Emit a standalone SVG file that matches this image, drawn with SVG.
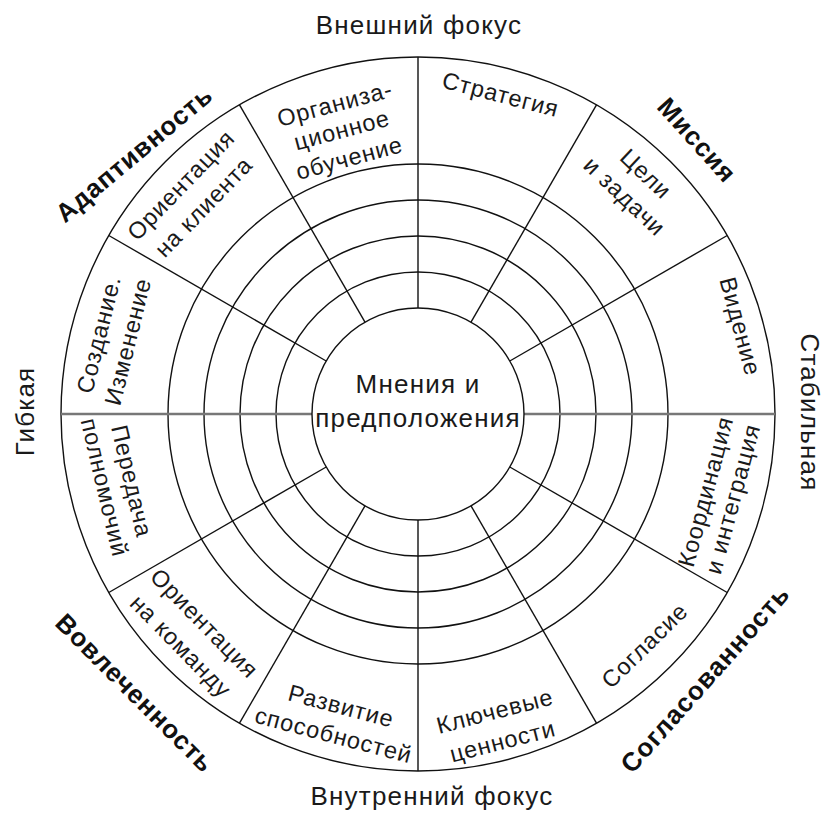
<svg xmlns="http://www.w3.org/2000/svg" width="824" height="814" viewBox="0 0 824 814">
<style>
text{font-family:"Liberation Sans",Arial,sans-serif;fill:#1a1a1a;text-anchor:middle}
.ring{fill:none;stroke:#111;stroke-width:1.4}
.rad{stroke:#111;stroke-width:1.4}
.axis{stroke:#777;stroke-width:2.4}
.lbl{font-size:23.5px;letter-spacing:0.9px}
.ax{font-size:26px;letter-spacing:1.2px}
.ctr{font-size:26px;letter-spacing:1.2px}
.bold{font-size:26px;font-weight:bold;fill:#111;letter-spacing:0.9px}
</style>
<rect width="824" height="814" fill="#fff"/>
<g id="rings">
<circle class="ring" cx="418" cy="414" r="357"/>
<circle class="ring" cx="418" cy="414" r="250"/>
<circle class="ring" cx="418" cy="414" r="214"/>
<circle class="ring" cx="418" cy="414" r="178"/>
<circle class="ring" cx="418" cy="414" r="142"/>
</g>
<g id="connectors">
<line class="axis" x1="524" y1="414" x2="775" y2="414"/>
<line class="axis" x1="312" y1="414" x2="61" y2="414"/>
<line class="rad" x1="418" y1="308" x2="418" y2="57"/>
<line class="rad" x1="418" y1="520" x2="418" y2="771"/>
<line class="rad" x1="509.8" y1="361" x2="727.2" y2="235.5"/>
<line class="rad" x1="471" y1="322.2" x2="596.5" y2="104.8"/>
<line class="rad" x1="365" y1="322.2" x2="239.5" y2="104.8"/>
<line class="rad" x1="326.2" y1="361" x2="108.8" y2="235.5"/>
<line class="rad" x1="326.2" y1="467" x2="108.8" y2="592.5"/>
<line class="rad" x1="365" y1="505.8" x2="239.5" y2="723.2"/>
<line class="rad" x1="471" y1="505.8" x2="596.5" y2="723.2"/>
<line class="rad" x1="509.8" y1="467" x2="727.2" y2="592.5"/>
</g>
<g id="center">
<circle class="ring" cx="418" cy="414" r="106"/>
<text class="ctr" x="418" y="393">Мнения и</text>
<text class="ctr" x="418" y="427">предположения</text>
</g>
<g id="axes-labels">
<text class="ax" x="419" y="34">Внешний фокус</text>
<text class="ax" x="432" y="805">Внутренний фокус</text>
<text class="ax" transform="translate(34 411.5) rotate(-90)">Гибкая</text>
<text class="ax" transform="translate(801 412.5) rotate(90)">Стабильная</text>
</g>
<g id="quadrants">
<text class="bold" transform="translate(134 154) rotate(-40)" y="9">Адаптивность</text>
<text class="bold" transform="translate(697 140) rotate(48)" y="9">Миссия</text>
<text class="bold" transform="translate(705 679) rotate(-48.5)" y="9">Согласованность</text>
<text class="bold" transform="translate(135 693) rotate(45)" y="9">Вовлеченность</text>
</g>
<g id="s-strategy"><text class="lbl" transform="rotate(14.5 418 414)" x="418" y="92">Стратегия</text></g>
<g id="s-goals" transform="rotate(43.5 418 414)">
<text class="lbl" x="418" y="91">Цели</text>
<text class="lbl" x="418" y="122">и задачи</text>
</g>
<g id="s-vision"><text class="lbl" transform="rotate(74.8 418 414)" x="418" y="88">Видение</text></g>
<g id="s-coord" transform="rotate(-74.9 418 414)">
<text class="lbl" x="418" y="720">Координация</text>
<text class="lbl" x="418" y="748">и интеграция</text>
</g>
<g id="s-agree"><text class="lbl" transform="rotate(-44.4 418 414)" x="418" y="746">Согласие</text></g>
<g id="s-values" transform="rotate(-14.5 418 414)">
<text class="lbl" x="418" y="729">Ключевые</text>
<text class="lbl" x="418" y="760">ценности</text>
</g>
<g id="s-develop" transform="rotate(14.75 418 414)">
<text class="lbl" x="418" y="724">Развитие</text>
<text class="lbl" x="418" y="754">способностей</text>
</g>
<g id="s-team" transform="rotate(45.6 418 414)">
<text class="lbl" x="418" y="721">Ориентация</text>
<text class="lbl" x="418" y="754">на команду</text>
</g>
<g id="s-empower" transform="rotate(76.8 418 414)">
<text class="lbl" x="418" y="716">Передача</text>
<text class="lbl" x="418" y="744">полномочий</text>
</g>
<g id="s-create" transform="rotate(-76 418 414)">
<text class="lbl" x="418" y="93">Создание.</text>
<text class="lbl" x="418" y="123">Изменение</text>
</g>
<g id="s-client" transform="rotate(-46 418 414)">
<text class="lbl" x="418" y="92.5">Ориентация</text>
<text class="lbl" x="418" y="124">на клиента</text>
</g>
<g id="s-learning" transform="rotate(-15 418 414)">
<text class="lbl" x="418" y="101">Организа-</text>
<text class="lbl" x="418" y="128">ционное</text>
<text class="lbl" x="418" y="157">обучение</text>
</g>
</svg>
